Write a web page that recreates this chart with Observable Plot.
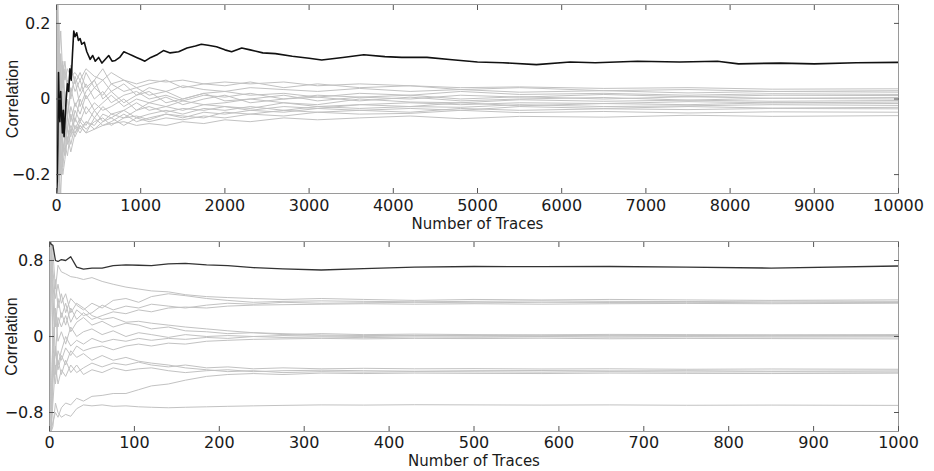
<!DOCTYPE html>
<html><head><meta charset="utf-8">
<script src="https://cdn.jsdelivr.net/npm/d3@7"></script>
<script src="https://cdn.jsdelivr.net/npm/@observablehq/plot@0.6"></script>
<style>
html,body{margin:0;padding:0;background:#fff;}
#chart{width:934px;height:471px;overflow:hidden;}
#chart svg{display:block;}
g[aria-label="y-axis label"] text{font-family:"Liberation Sans",Arial,sans-serif;}
g[aria-label="x-axis label"] text{font-size:15px;}
</style></head><body><div id="chart"></div>
<script>
// ---------- tick labels ----------
const TOP_X_TICKS = [0,1000,2000,3000,4000,5000,6000,7000,8000,9000,10000];
const TOP_Y_TICKS = [-0.2, 0, 0.2];
const BOT_X_TICKS = [0,100,200,300,400,500,600,700,800,900,1000];
const BOT_Y_TICKS = [-0.8, 0, 0.8];
const X_LABEL = "Number of Traces";
const Y_LABEL = "Correlation";

// ---------- top panel (0..10000 traces) ----------
const TOP_BLACK = [[0,-0.25],[8,-0.22],[16,-0.12],[24,0.07],[32,-0.02],[40,-0.06],[50,0.02],[60,-0.04],[70,-0.09],[80,-0.03],[90,-0.10],[100,-0.06],[115,0.0],[130,0.04],[145,0.02],[160,0.08],[175,0.05],[190,0.12],[205,0.18],[220,0.165],[240,0.175],[260,0.155],[280,0.16],[300,0.145],[330,0.15],[360,0.125],[400,0.105],[430,0.115],[460,0.10],[500,0.11],[540,0.095],[580,0.105],[620,0.115],[660,0.10],[700,0.102],[750,0.11],[800,0.125],[850,0.12],[900,0.115],[950,0.11],[1000,0.105],[1050,0.10],[1120,0.11],[1200,0.118],[1270,0.128],[1350,0.122],[1450,0.125],[1550,0.135],[1650,0.14],[1720,0.145],[1800,0.142],[1900,0.138],[2000,0.13],[2080,0.125],[2200,0.135],[2300,0.13],[2450,0.122],[2600,0.12],[2800,0.113],[3000,0.108],[3150,0.103],[3400,0.11],[3650,0.117],[3900,0.112],[4100,0.11],[4400,0.11],[4700,0.104],[5000,0.098],[5300,0.096],[5700,0.091],[6100,0.098],[6400,0.096],[6900,0.10],[7400,0.098],[7850,0.10],[8100,0.093],[8600,0.095],[9000,0.093],[9500,0.096],[10000,0.097]];

const TOP_X = [0,15,30,50,75,100,130,170,220,280,350,450,550,650,800,950,1100,1300,1500,1750,2000,2300,2700,3100,3600,4200,4800,5500,6500,7500,8500,10000];
const TOP_G1 = [0.22,-0.10,0.15,0.02,0.09,0.05,0.08,0.06,0.07,0.05,0.08,0.06,0.05,0.07,0.05,0.04,0.05,0.045,0.05,0.04,0.045,0.04,0.045,0.035,0.04,0.035,0.03,0.032,0.028,0.03,0.026,0.027];
const TOP_G2 = [-0.25,0.20,-0.05,0.12,0.03,0.08,0.02,0.09,0.04,0.07,0.03,0.05,0.08,0.04,0.05,0.03,0.04,0.05,0.03,0.04,0.035,0.045,0.03,0.04,0.03,0.035,0.025,0.03,0.022,0.025,0.02,0.022];
const TOP_G3 = [0.25,-0.15,0.05,-0.08,0.06,-0.02,0.05,0.0,0.06,0.02,0.07,0.03,0.05,0.02,0.04,0.01,0.03,0.02,0.035,0.025,0.02,0.03,0.025,0.02,0.028,0.02,0.025,0.018,0.022,0.016,0.02,0.018];
const TOP_G4 = [-0.15,0.25,0.10,0.18,0.06,0.10,0.04,0.06,0.02,0.05,0.0,0.03,0.01,0.04,0.02,0.03,0.01,0.02,0.0,0.015,0.02,0.01,0.015,0.005,0.015,0.01,0.02,0.012,0.015,0.01,0.014,0.012];
const TOP_G5 = [0.10,-0.20,-0.12,0.05,-0.06,0.02,-0.04,0.03,-0.02,0.01,0.04,0.0,0.02,-0.01,0.01,0.02,0.0,0.01,-0.005,0.01,0.005,0.015,0.0,0.01,0.005,0.0,0.01,0.005,0.012,0.006,0.01,0.009];
const TOP_G6 = [-0.25,-0.05,0.20,-0.02,0.10,0.0,-0.05,0.02,0.05,-0.02,0.02,0.05,0.0,0.02,-0.01,0.01,0.02,-0.01,0.0,0.015,-0.005,0.0,0.01,-0.005,0.005,0.01,0.0,0.006,0.0,0.006,0.002,0.004];
const TOP_G7 = [0.18,0.25,-0.20,-0.10,0.02,-0.08,0.0,-0.06,-0.01,-0.04,0.01,-0.03,-0.01,0.01,-0.02,0.0,-0.01,0.005,-0.015,0.0,0.01,-0.01,0.0,0.005,-0.005,0.005,-0.005,0.0,0.004,-0.003,0.002,0.0];
const TOP_G8 = [-0.20,0.05,-0.15,0.08,-0.10,-0.03,-0.08,-0.02,-0.06,0.0,-0.04,-0.01,-0.03,-0.02,0.0,-0.03,-0.01,-0.02,-0.005,-0.015,-0.01,0.0,-0.01,-0.015,0.0,-0.008,-0.01,-0.002,-0.006,-0.003,-0.006,-0.004];
const TOP_G9 = [0.25,0.0,-0.25,-0.15,-0.02,-0.12,-0.05,-0.09,-0.03,-0.06,-0.02,-0.05,-0.02,-0.04,-0.03,-0.01,-0.03,-0.02,-0.03,-0.015,-0.02,-0.025,-0.01,-0.02,-0.015,-0.01,-0.015,-0.01,-0.012,-0.007,-0.01,-0.008];
const TOP_G10 = [-0.05,-0.25,0.12,-0.18,-0.10,-0.06,-0.12,-0.04,-0.08,-0.05,-0.07,-0.03,-0.06,-0.04,-0.05,-0.03,-0.02,-0.035,-0.025,-0.03,-0.02,-0.03,-0.02,-0.025,-0.015,-0.02,-0.01,-0.018,-0.012,-0.015,-0.01,-0.012];
const TOP_G11 = [0.05,0.15,-0.05,-0.20,-0.15,-0.10,-0.08,-0.10,-0.05,-0.08,-0.06,-0.07,-0.04,-0.05,-0.03,-0.05,-0.04,-0.03,-0.04,-0.025,-0.03,-0.02,-0.03,-0.02,-0.025,-0.02,-0.022,-0.015,-0.02,-0.018,-0.015,-0.017];
const TOP_G12 = [-0.25,-0.12,0.05,0.0,-0.18,-0.12,-0.15,-0.08,-0.10,-0.07,-0.09,-0.05,-0.07,-0.06,-0.04,-0.06,-0.05,-0.04,-0.05,-0.035,-0.04,-0.03,-0.035,-0.025,-0.03,-0.025,-0.03,-0.02,-0.025,-0.02,-0.024,-0.022];
const TOP_G13 = [0.12,-0.18,-0.22,-0.06,-0.14,-0.09,-0.11,-0.07,-0.09,-0.06,-0.08,-0.06,-0.05,-0.07,-0.05,-0.045,-0.055,-0.04,-0.045,-0.05,-0.035,-0.04,-0.03,-0.035,-0.03,-0.035,-0.025,-0.03,-0.026,-0.028,-0.025,-0.026];
const TOP_G14 = [-0.10,0.10,-0.18,-0.25,-0.12,-0.15,-0.08,-0.12,-0.07,-0.09,-0.06,-0.08,-0.06,-0.05,-0.07,-0.05,-0.06,-0.05,-0.055,-0.045,-0.05,-0.04,-0.045,-0.035,-0.04,-0.038,-0.03,-0.036,-0.033,-0.037,-0.034,-0.035];
const TOP_G15 = [0.0,-0.22,0.08,-0.12,-0.20,-0.16,-0.10,-0.14,-0.09,-0.07,-0.09,-0.08,-0.07,-0.065,-0.06,-0.07,-0.065,-0.07,-0.06,-0.065,-0.055,-0.06,-0.05,-0.055,-0.05,-0.045,-0.052,-0.046,-0.048,-0.043,-0.046,-0.044];

// ---------- bottom panel (0..1000 traces) ----------
const BOT_X = [0,2,4,7,10,14,19,25,32,40,50,62,75,90,105,120,140,160,185,210,240,275,320,370,430,500,580,660,750,850,1000];
const BOT_BLACK = [1.0,0.97,0.96,0.80,0.79,0.81,0.80,0.84,0.73,0.71,0.72,0.72,0.745,0.755,0.75,0.745,0.765,0.77,0.755,0.745,0.725,0.712,0.70,0.715,0.73,0.737,0.735,0.737,0.73,0.72,0.742];
const BOT_A1 = [-1,1,0.9,0.5,0.75,0.68,0.66,0.63,0.62,0.6,0.62,0.58,0.55,0.52,0.50,0.48,0.47,0.44,0.42,0.41,0.40,0.39,0.40,0.39,0.38,0.39,0.385,0.39,0.385,0.38,0.386];
const BOT_A2 = [1,-1,0.2,0.6,0.3,0.45,0.25,0.4,0.33,0.28,0.35,0.30,0.38,0.40,0.36,0.42,0.45,0.43,0.40,0.38,0.36,0.37,0.375,0.37,0.365,0.37,0.375,0.37,0.368,0.372,0.37];
const BOT_A3 = [1,1,0.6,0.1,0.4,0.2,0.35,0.15,0.28,0.22,0.25,0.33,0.28,0.32,0.30,0.34,0.32,0.30,0.33,0.35,0.34,0.36,0.35,0.355,0.36,0.355,0.36,0.358,0.36,0.355,0.358];
const BOT_A4 = [-1,-1,-0.3,0.3,0.1,0.25,0.12,0.3,0.18,0.25,0.18,0.22,0.26,0.24,0.28,0.26,0.30,0.31,0.30,0.32,0.33,0.335,0.34,0.345,0.34,0.345,0.34,0.345,0.348,0.345,0.35];
const BOT_B1 = [1,1,0.4,-0.2,0.2,0.1,0.22,0.05,0.15,0.2,0.12,0.16,0.10,0.14,0.12,0.08,0.10,0.06,0.05,0.03,0.04,0.02,0.03,0.02,0.025,0.02,0.018,0.022,0.02,0.018,0.02];
const BOT_B2 = [-1,1,-0.1,0.25,-0.05,0.05,-0.08,0.1,0.0,0.05,0.08,0.02,0.06,0.0,0.04,0.02,-0.01,0.02,0.0,0.01,0.0,0.01,0.005,0.0,0.008,0.004,0.0,0.006,0.002,0.004,0.005];
const BOT_B3 = [1,-1,-0.5,-0.1,-0.3,-0.15,0.0,-0.1,-0.04,-0.08,-0.02,-0.06,-0.03,-0.05,-0.02,-0.04,-0.02,-0.03,-0.01,-0.02,0.0,-0.01,-0.005,-0.012,-0.005,-0.008,-0.003,-0.007,-0.004,-0.006,-0.005];
const BOT_B4 = [-1,-1,0.1,-0.4,-0.15,-0.25,-0.12,-0.2,-0.1,-0.15,-0.12,-0.1,-0.14,-0.1,-0.08,-0.1,-0.07,-0.08,-0.05,-0.04,-0.03,-0.025,-0.02,-0.025,-0.02,-0.022,-0.018,-0.024,-0.02,-0.022,-0.025];
const BOT_B5 = [1,1,0.7,0.4,0.55,0.35,0.45,0.25,0.35,0.3,0.22,0.18,0.2,0.15,0.16,0.14,0.12,0.1,0.08,0.06,0.04,0.03,0.015,0.01,0.012,0.01,0.012,0.008,0.01,0.012,0.01];
const BOT_C1 = [-1,-1,-0.7,-0.3,-0.5,-0.35,-0.42,-0.3,-0.38,-0.33,-0.28,-0.32,-0.28,-0.3,-0.27,-0.3,-0.32,-0.3,-0.33,-0.32,-0.34,-0.33,-0.34,-0.335,-0.34,-0.338,-0.342,-0.34,-0.345,-0.342,-0.345];
const BOT_C2 = [1,-1,-0.2,-0.5,-0.25,-0.4,-0.25,-0.38,-0.3,-0.4,-0.35,-0.38,-0.33,-0.36,-0.34,-0.33,-0.36,-0.38,-0.36,-0.35,-0.37,-0.36,-0.355,-0.36,-0.365,-0.36,-0.358,-0.362,-0.36,-0.365,-0.362];
const BOT_C3 = [-1,1,-0.4,-0.15,-0.35,-0.2,-0.3,-0.15,-0.22,-0.18,-0.25,-0.2,-0.25,-0.22,-0.26,-0.28,-0.3,-0.33,-0.35,-0.37,-0.36,-0.38,-0.37,-0.375,-0.37,-0.372,-0.375,-0.37,-0.374,-0.372,-0.375];
const BOT_C4 = [-1,-1,-0.9,-0.8,-0.85,-0.75,-0.7,-0.72,-0.65,-0.68,-0.63,-0.62,-0.6,-0.6,-0.56,-0.52,-0.5,-0.46,-0.42,-0.4,-0.39,-0.4,-0.385,-0.39,-0.385,-0.388,-0.39,-0.385,-0.388,-0.39,-0.386];
const BOT_D1 = [-1,-1,-0.95,-0.7,-0.8,-0.85,-0.82,-0.84,-0.76,-0.72,-0.73,-0.72,-0.735,-0.73,-0.74,-0.745,-0.75,-0.745,-0.74,-0.735,-0.73,-0.725,-0.72,-0.722,-0.718,-0.72,-0.722,-0.72,-0.724,-0.722,-0.725];

// ---------- build tables ----------
function series(xs, ys, name) {
  if (xs.length !== ys.length) throw new Error(name + " has " + ys.length + " values, expected " + xs.length);
  return xs.map((x, i) => ({x, y: ys[i], s: name}));
}
const topGrayList = {TOP_G1, TOP_G2, TOP_G3, TOP_G4, TOP_G5, TOP_G6, TOP_G7, TOP_G8, TOP_G9, TOP_G10, TOP_G11, TOP_G12, TOP_G13, TOP_G14, TOP_G15};
const botGrayList = {BOT_A1, BOT_A2, BOT_A3, BOT_A4, BOT_B1, BOT_B2, BOT_B3, BOT_B4, BOT_B5, BOT_C1, BOT_C2, BOT_C3, BOT_C4, BOT_D1};
const topGray = Object.entries(topGrayList).flatMap(([k, v]) => series(TOP_X, v, k));
const botGray = Object.entries(botGrayList).flatMap(([k, v]) => series(BOT_X, v, k));
const topBlack = TOP_BLACK.map(([x, y]) => ({x, y}));
const botBlack = series(BOT_X, BOT_BLACK, "BOT_BLACK");

const fmt = d => (d < 0 ? "\u2212" + String(-d) : String(d));

function panel(o) {
  const tickStroke = "#555";
  return Plot.plot({
    width: 934, height: o.height,
    marginTop: o.mt, marginBottom: o.mb, marginLeft: o.ml, marginRight: o.mr,
    style: {fontFamily: "'DejaVu Sans', sans-serif", fontSize: "16px", color: "#1a1a1a", background: "#fff", overflow: "visible"},
    x: {domain: o.xDomain},
    y: {domain: o.yDomain},
    marks: [
      Plot.line(o.gray, {x: "x", y: "y", z: "s", stroke: "#c2c2c2", strokeWidth: 1, clip: true}),
      Plot.line(o.black, {x: "x", y: "y", stroke: o.blackColor, strokeWidth: o.blackWidth, clip: true}),
      Plot.frame({stroke: "#9a9a9a"}),
      Plot.axisX(o.xTicks, {anchor: "bottom", tickSize: -5, fill: "none", stroke: tickStroke}),
      Plot.axisX(o.xTicks, {anchor: "top", tickSize: -5, fill: "none", stroke: tickStroke}),
      Plot.axisY(o.yTicks, {anchor: "left", tickSize: -5, fill: "none", stroke: tickStroke}),
      Plot.axisY(o.yTicks, {anchor: "right", tickSize: -5, fill: "none", stroke: tickStroke}),
      Plot.axisX(o.xTicks, {anchor: "bottom", tickSize: 0, tickPadding: o.xTickPadding, tickFormat: fmt,
        label: X_LABEL, labelAnchor: "center", labelArrow: "none", labelOffset: o.xLabelOffset}),
      Plot.axisY(o.yTicks, {anchor: "left", tickSize: 0, tickPadding: 6, tickFormat: fmt,
        label: Y_LABEL, labelAnchor: "center", labelArrow: "none", labelOffset: o.yLabelOffset})
    ]
  });
}

const chart = document.getElementById("chart");
chart.appendChild(panel({
  height: 230, mt: 4, mb: 37, ml: 56, mr: 36,
  xDomain: [0, 10000], yDomain: [-0.25, 0.25],
  xTicks: TOP_X_TICKS, yTicks: TOP_Y_TICKS,
  gray: topGray, black: topBlack, blackColor: "#111", blackWidth: 1.6,
  xTickPadding: 6, xLabelOffset: 35, yLabelOffset: 50
}));
chart.appendChild(panel({
  height: 241, mt: 11, mb: 40, ml: 49, mr: 36,
  xDomain: [0, 1000], yDomain: [-1, 1],
  xTicks: BOT_X_TICKS, yTicks: BOT_Y_TICKS,
  gray: botGray, black: botBlack, blackColor: "#333", blackWidth: 1.3,
  xTickPadding: 5, xLabelOffset: 34, yLabelOffset: 44
}));
</script>
</body></html>
